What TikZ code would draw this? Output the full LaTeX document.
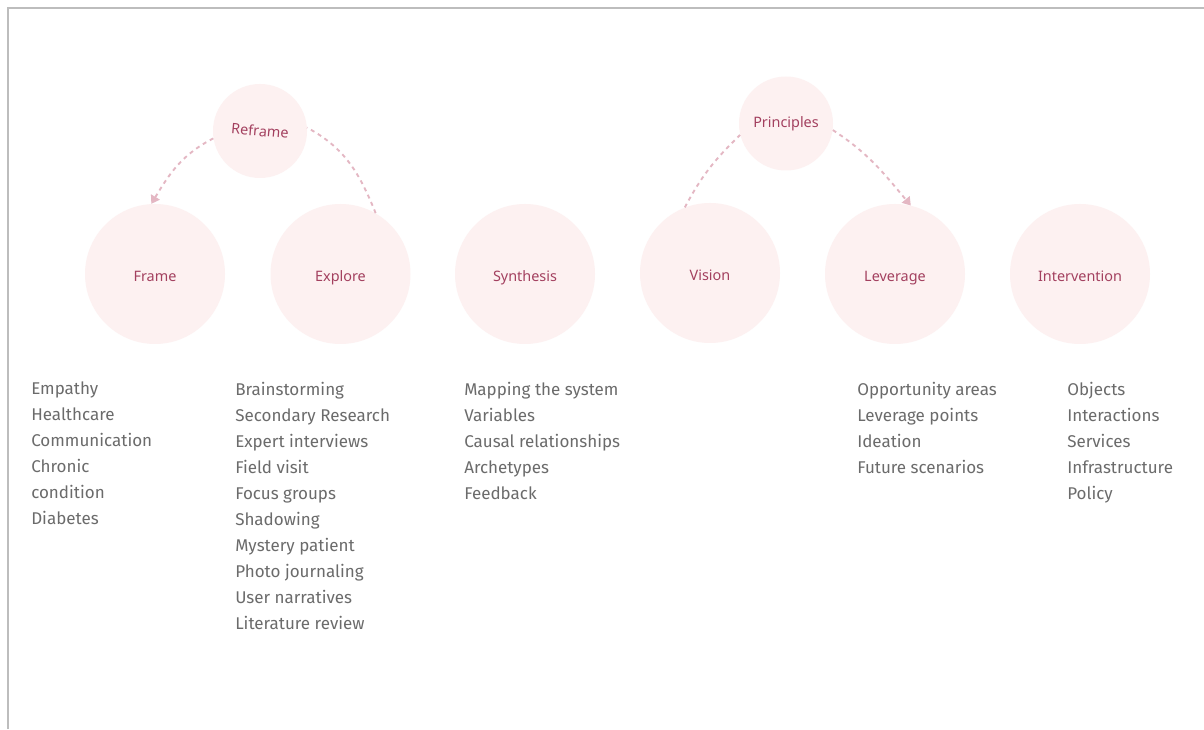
\documentclass[tikz,border=0pt]{standalone}
\usepackage{fontspec}
\usetikzlibrary{arrows.meta}
\newfontfamily\listfont{Fira Sans}
\newfontfamily\labelfont{Noto Sans}
\definecolor{bubble}{HTML}{FDF1F1}
\definecolor{labelred}{HTML}{A3405F}
\definecolor{linkpink}{HTML}{E4B7C3}
\definecolor{listgray}{HTML}{6B6B6B}
\definecolor{framegray}{HTML}{BDBDBD}
\begin{document}
\begin{tikzpicture}[x=0.75pt,y=0.75pt,
  stage/.style={circle,fill=bubble,draw=none,minimum size=105pt,inner sep=0pt,
    text height=11pt,text depth=0pt,
    font=\labelfont\fontsize{10.8}{12}\selectfont,text=labelred},
  loopstage/.style={stage,minimum size=70.5pt,text height=8pt},
  link/.style={draw=linkpink,line width=1.4pt,dash pattern=on 3pt off 3pt},
  arrowlink/.style={link,-{Triangle[length=6pt,width=7.5pt]}},
  itemlist/.style={anchor=north west,inner sep=0pt,align=left,text=listgray,
    font=\listfont\fontsize{12.75}{19.5}\selectfont}]
\useasboundingbox (0,0) rectangle (1204,729);
\fill[white] (0,0) rectangle (1204,729);
% frame edges
\draw[framegray,line width=1.5pt] (8,0) -- (8,721) -- (1204,721);

% main stages
\node[stage] (frame) at (155,455) {Frame};
\node[stage] (explore) at (340.5,455) {Explore};
\node[stage] (synthesis) at (525,455) {Synthesis};
\node[stage] (vision) at (710,456) {Vision};
\node[stage] (leverage) at (895,455) {Leverage};
\node[stage] (intervention) at (1080,455) {Intervention};

% loop stages
\node[loopstage] (reframe) at (260,598) {\raisebox{2pt}{\rotatebox{-5}{Reframe}}};
\node[loopstage] (principles) at (786,605.5) {\raisebox{1pt}{Principles}};

% loop connectors
\draw[arrowlink] (reframe.189) to[out=207,in=59] (frame.93);
\draw[link] (explore.60) to[out=112,in=-28] (reframe.4);
\draw[link] (vision.111) to[out=62,in=224] (principles.194);
\draw[arrowlink] (principles.-8) to[out=-33,in=130] (leverage.77);

% activity lists
\node[itemlist] (framelist) at (31,347) {Empathy\\Healthcare\\Communication\\Chronic\\condition\\Diabetes};
\node[itemlist] (explorelist) at (235,347) {Brainstorming\\Secondary Research\\Expert interviews\\Field visit\\Focus groups\\Shadowing\\Mystery patient\\Photo journaling\\User narratives\\Literature review};
\node[itemlist] (synthesislist) at (464,347) {Mapping the system\\Variables\\Causal relationships\\Archetypes\\Feedback};
\node[itemlist] (leveragelist) at (857,347) {Opportunity areas\\Leverage points\\Ideation\\Future scenarios};
\node[itemlist] (interventionlist) at (1067,347) {Objects\\Interactions\\Services\\Infrastructure\\Policy};
\end{tikzpicture}
\end{document}
